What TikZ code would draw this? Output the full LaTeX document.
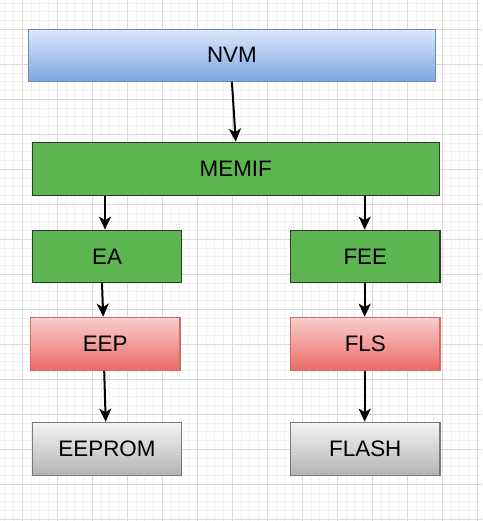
\documentclass[tikz,border=0pt]{standalone}
\usepackage{fontspec}
\setmainfont{Liberation Sans}
\usetikzlibrary{arrows.meta,calc}
\definecolor{gridminor}{HTML}{F2F2F2}
\definecolor{gridmajor}{HTML}{D9D9D9}
\definecolor{bluetop}{HTML}{DAE8FC}
\definecolor{bluebot}{HTML}{7EA6E0}
\definecolor{bluedraw}{HTML}{6C8EBF}
\definecolor{greenfill}{HTML}{5DB551}
\definecolor{greendraw}{HTML}{2F3A2D}
\definecolor{redtop}{HTML}{F8CECC}
\definecolor{redbot}{HTML}{EA6B66}
\definecolor{reddraw}{HTML}{D06A66}
\definecolor{graytop}{HTML}{F5F5F5}
\definecolor{graybot}{HTML}{B3B3B3}
\definecolor{graydraw}{HTML}{7A7A7A}
\tikzset{
  box/.style={rectangle, line width=1.2pt, inner sep=0pt, text=black,
    font=\fontsize{22.4}{26}\selectfont},
  bluebox/.style={box, draw=bluedraw, top color=bluetop, bottom color=bluebot},
  greenbox/.style={box, draw=greendraw, fill=greenfill},
  redbox/.style={box, draw=reddraw, top color=redtop, bottom color=redbot},
  graybox/.style={box, draw=graydraw, top color=graytop, bottom color=graybot},
  arr/.style={line width=2pt, draw=black, -{Stealth[length=13pt,width=12pt,inset=3.5pt]}},
}
\begin{document}
\begin{tikzpicture}[x=1pt,y=-1pt]
\useasboundingbox (0,0) rectangle (482,521);
\fill[white] (0,0) rectangle (482,521);
% grid
\foreach \i in {-2,...,53}{
  \pgfmathsetmacro{\gx}{22.3+8.75*\i}
  \draw[gridminor, line width=1pt] (\gx,0) -- (\gx,521);
}
\foreach \i in {-3,...,57}{
  \pgfmathsetmacro{\gy}{29.3+8.75*\i}
  \draw[gridminor, line width=1pt] (0,\gy) -- (482,\gy);
}
\foreach \i in {0,...,13}{
  \pgfmathsetmacro{\gx}{22.3+35*\i}
  \draw[gridmajor, line width=1pt] (\gx,0) -- (\gx,521);
}
\foreach \i in {0,...,14}{
  \pgfmathsetmacro{\gy}{29.3+35*\i}
  \draw[gridmajor, line width=1pt] (0,\gy) -- (482,\gy);
}
% nodes
\node[bluebox, minimum width=407pt, minimum height=52pt] (NVM) at (231.9,55.2) {NVM};
\node[greenbox, minimum width=407pt, minimum height=53pt] (MEMIF) at (235.8,168.8) {MEMIF};
\node[greenbox, minimum width=149.4pt, minimum height=52pt] (EA) at (107,256.3) {EA};
\node[greenbox, minimum width=149.3pt, minimum height=52pt] (FEE) at (365.3,256.3) {FEE};
\node[redbox, minimum width=149.7pt, minimum height=53pt] (EEP) at (105.2,343.8) {EEP};
\node[redbox, minimum width=149.3pt, minimum height=53pt] (FLS) at (365.3,343.8) {FLS};
\node[graybox, minimum width=149.4pt, minimum height=53pt] (EEPROM) at (107,448.8) {EEPROM};
\node[graybox, minimum width=149.3pt, minimum height=53pt] (FLASH) at (365.3,448.8) {FLASH};
% connectors
\draw[arr] (NVM.south) -- (MEMIF.north);
\draw[arr] ([xshift=-2pt]EA.north |- MEMIF.south) -- ([xshift=-2pt]EA.north);
\draw[arr] ([xshift=-0.6pt]FEE.north |- MEMIF.south) -- ([xshift=-0.6pt]FEE.north);
\draw[arr] ([xshift=-5pt]EA.south) -- ([xshift=-2pt]EEP.north);
\draw[arr] ([xshift=-0.6pt]FEE.south) -- ([xshift=-0.6pt]FLS.north);
\draw[arr] ([xshift=-1pt]EEP.south) -- ([xshift=-1.3pt]EEPROM.north);
\draw[arr] ([xshift=-0.6pt]FLS.south) -- ([xshift=-0.6pt]FLASH.north);
\end{tikzpicture}
\end{document}
